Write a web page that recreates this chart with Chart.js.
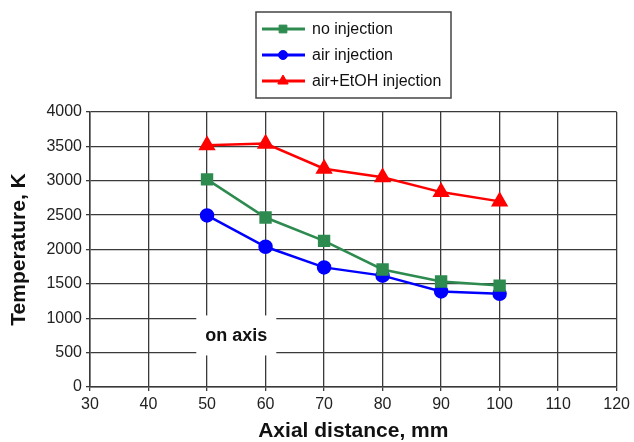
<!DOCTYPE html>
<html>
<head>
<meta charset="utf-8">
<script src="https://cdn.jsdelivr.net/npm/chart.js@4"></script>
<style>
  html, body { margin: 0; padding: 0; background: #fff; }
  #wrap { width: 634px; height: 442px; }
</style>
</head>
<body>
<div id="wrap"><canvas id="chartTemp" width="634" height="442"></canvas></div>
<script>
// Axial distance (mm)
const distancias = [50, 60, 70, 80, 90, 100];
// Temperature (K) per series
const semInjecao = [3020, 2465, 2125, 1710, 1535, 1475];
const injecaoAr = [2495, 2040, 1740, 1620, 1390, 1355];
const injecaoArEtanol = [3515, 3540, 3175, 3050, 2835, 2700];
const nomes = ["no injection", "air injection", "air+EtOH injection"];
const nota = "on axis";
const notaPos = { x: 55, y: 750 };

const FONTE = "'Liberation Sans', Arial, Helvetica, sans-serif";
const GRADE = "#3a3a3a";

const pts = arr => arr.map((v, i) => ({ x: distancias[i], y: v }));

// legenda com caixa + texto "on axis"
const extras = {
  id: "extras",
  afterDraw(chart) {
    const ctx = chart.ctx;
    const { x, y } = chart.scales;

    // on axis
    const cx = x.getPixelForValue(notaPos.x);
    const cy = y.getPixelForValue(notaPos.y);
    ctx.save();
    ctx.fillStyle = "#fff";
    ctx.fillRect(cx - 40, cy - 20, 80, 40);
    ctx.fillStyle = "#111";
    ctx.font = "bold 18px " + FONTE;
    ctx.textAlign = "center";
    ctx.textBaseline = "middle";
    ctx.fillText(nota, cx, cy + 1);
    ctx.restore();

    // legend box
    ctx.save();
    ctx.strokeStyle = "#444";
    ctx.lineWidth = 1.5;
    ctx.fillStyle = "#fff";
    ctx.fillRect(256, 12, 195, 86);
    ctx.strokeRect(256, 12, 195, 86);
    ctx.font = "16px " + FONTE;
    ctx.textBaseline = "middle";
    const linhas = [29, 55, 81];
    chart.data.datasets.forEach((ds, i) => {
      const ly = linhas[i];
      ctx.strokeStyle = ds.borderColor;
      ctx.lineWidth = 3;
      ctx.beginPath();
      ctx.moveTo(262, ly);
      ctx.lineTo(305, ly);
      ctx.stroke();
      ctx.fillStyle = ds.borderColor;
      ctx.lineWidth = 1;
      Chart.helpers.drawPoint(ctx, {
        pointStyle: ds.pointStyle,
        radius: ds.pointRadius - 1.5,
        borderWidth: 1
      }, 283, ly);
      ctx.fillStyle = "#111";
      ctx.fillText(ds.label, 312, ly + 1);
    });
    ctx.restore();
  }
};

function serie(label, data, cor, estilo, raio) {
  return {
    label,
    data: pts(data),
    borderColor: cor,
    backgroundColor: cor,
    pointBackgroundColor: cor,
    pointBorderColor: cor,
    pointStyle: estilo,
    pointRadius: raio,
    pointHoverRadius: raio,
    borderWidth: 2.5,
    tension: 0
  };
}

new Chart(document.getElementById("chartTemp"), {
  type: "line",
  data: {
    datasets: [
      serie(nomes[0], semInjecao, "#2e8b50", "rect", 7),
      serie(nomes[1], injecaoAr, "#0000ff", "circle", 6),
      serie(nomes[2], injecaoArEtanol, "#ff0000", "triangle", 7.5)
    ]
  },
  options: {
    responsive: false,
    animation: false,
    layout: { padding: { top: 112, right: 17, left: 0, bottom: 0 } },
    plugins: { legend: { display: false }, tooltip: { enabled: false } },
    scales: {
      x: {
        type: "linear",
        min: 30,
        max: 120,
        afterFit: s => { s.height = 55; },
        ticks: { stepSize: 10, color: "#222", font: { family: FONTE, size: 16 }, padding: 4, maxRotation: 0 },
        grid: { color: GRADE, lineWidth: 1.3, tickLength: 4, tickColor: GRADE },
        border: { color: GRADE, width: 1.5 },
        title: {
          display: true,
          text: "Axial distance, mm",
          color: "#111",
          font: { family: FONTE, size: 21, weight: "bold", lineHeight: 1 },
          padding: { top: 0, bottom: 0 }
        }
      },
      y: {
        min: 0,
        max: 4000,
        afterFit: s => { s.width = 90; },
        ticks: {
          stepSize: 500,
          color: "#222",
          font: { family: FONTE, size: 16 },
          padding: 4,
          callback: v => String(v)
        },
        grid: { color: GRADE, lineWidth: 1.3, tickLength: 4, tickColor: GRADE },
        border: { color: GRADE, width: 1.5 },
        title: {
          display: true,
          text: "Temperature, K",
          color: "#111",
          font: { family: FONTE, size: 21, weight: "bold", lineHeight: 1 },
          padding: { top: 9, bottom: 0 }
        }
      }
    }
  },
  plugins: [extras]
});
</script>
</body>
</html>
